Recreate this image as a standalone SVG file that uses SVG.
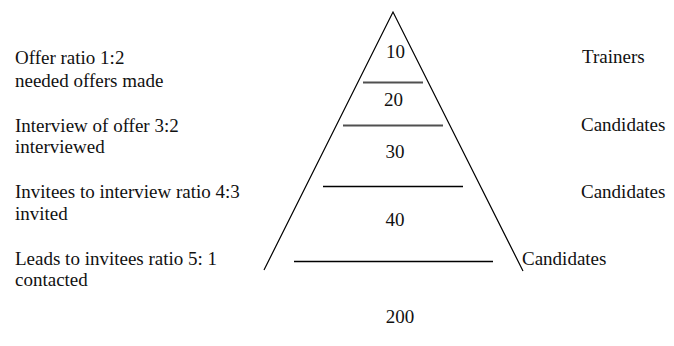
<svg xmlns="http://www.w3.org/2000/svg" width="674" height="346" viewBox="0 0 674 346">
<style>
text{font-family:"Liberation Serif","Times New Roman",serif;font-size:19px;fill:#111}
.c{text-anchor:middle}
.tri{fill:none;stroke:#000;stroke-width:1.2}
.g{stroke:#505050;stroke-width:2}
.k{stroke:#000;stroke-width:1.5}
</style>
<rect width="674" height="346" fill="#fff"/>
<g id="pyramid">
<polyline class="tri" points="264,270 393,12 523,271"/>
</g>
<g id="connectors">
<line class="g" x1="363" y1="82.5" x2="423" y2="82.5"/>
<line class="g" x1="343" y1="125.5" x2="443" y2="125.5"/>
<line class="k" x1="323" y1="186.5" x2="463" y2="186.5"/>
<line class="k" x1="294" y1="261.5" x2="493" y2="261.5"/>
</g>
<g id="levels">
<text class="c" x="395.5" y="58">10</text>
<text class="c" x="393.5" y="106">20</text>
<text class="c" x="395" y="158">30</text>
<text class="c" x="395" y="226">40</text>
<text class="c" x="400" y="323">200</text>
</g>
<g id="left-labels">
<text x="15" y="64">Offer ratio 1:2</text>
<text x="15" y="87">needed offers made</text>
<text x="15" y="132">Interview of offer 3:2</text>
<text x="15" y="153">interviewed</text>
<text x="15" y="198">Invitees to interview ratio 4:3</text>
<text x="15" y="220">invited</text>
<text x="15" y="265">Leads to invitees ratio 5: 1</text>
<text x="15" y="286">contacted</text>
</g>
<g id="right-labels">
<text x="582" y="63">Trainers</text>
<text x="581" y="131">Candidates</text>
<text x="581" y="198">Candidates</text>
<text x="522" y="265">Candidates</text>
</g>
</svg>
